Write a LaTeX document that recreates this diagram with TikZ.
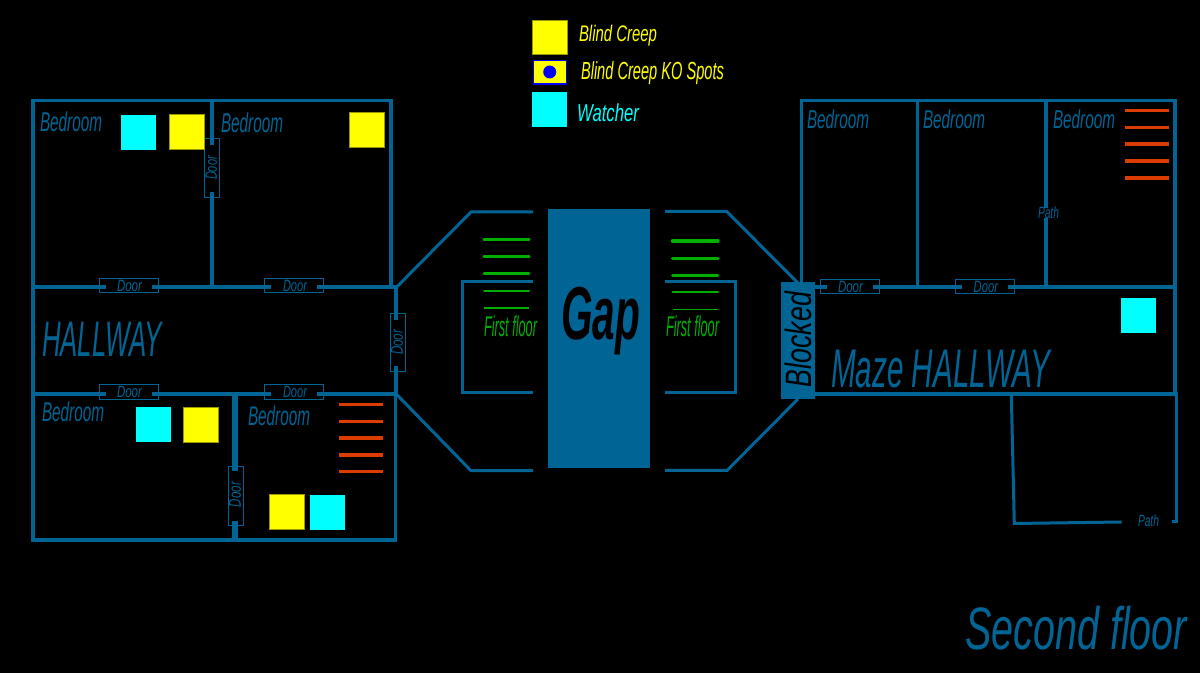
\documentclass[tikz,border=0pt]{standalone}
\usepackage{fontspec}
\setmainfont{Liberation Sans}
\definecolor{wall}{HTML}{006494}
\definecolor{stair}{HTML}{DC3C00}
\definecolor{upstair}{HTML}{00B000}
\definecolor{creepedge}{HTML}{9A9A00}
\definecolor{creepfill}{HTML}{FFFF00}
\definecolor{watchfill}{HTML}{00FFFF}
\definecolor{kodot}{HTML}{0000FF}
\newcommand{\lbl}[7][wall]{% colour, name, x1,y1,x2,y2, text
  \pgfmathsetmacro{\lw}{(#5-#3)*0.75}\pgfmathsetmacro{\lh}{(#6-#4)*0.75}%
  \node[anchor=north west,inner sep=0pt,outer sep=0pt,text=#1] (#2) at (#3,#4)
    {\resizebox*{\lw pt}{\lh pt}{\itshape #7}};}
\newcommand{\rlbl}[7][wall]{% rotated label: box given as on the page
  \pgfmathsetmacro{\lw}{(#6-#4)*0.75}\pgfmathsetmacro{\lh}{(#5-#3)*0.75}%
  \node[rotate=90,inner sep=0pt,outer sep=0pt,text=#1] (#2) at ({(#3+#5)/2},{(#4+#6)/2})
    {\resizebox*{\lw pt}{\lh pt}{\itshape #7}};}
\tikzset{
  wallline/.style={draw=wall,line width=2.5pt,line cap=rect,line join=miter},
  thinwall/.style={draw=wall,line width=2.25pt,line join=miter},
  doorbox/.style={draw=wall,line width=0.75pt},
  creep/.style={fill=creepfill,draw=creepedge,line width=0.5pt},
  watcher/.style={fill=watchfill},
  stairline/.style={draw=stair,line width=2.5pt},
  upline/.style={draw=upstair,line cap=round},
}
\begin{document}
\begin{tikzpicture}[x=0.75pt,y=-0.75pt]
\useasboundingbox (0,0) rectangle (1200,673);
\fill[black] (0,0) rectangle (1200,673);

% --- left wing: walls
\draw[wallline] (212,143) -- (212,100.5) (33,287) -- (33,100.5) -- (391,100.5) -- (391,287);
\draw[wallline] (212,194) -- (212,287);
\draw[wallline] (33,287) -- (104,287) (154,287) -- (269,287) (319,287) -- (396,287);
\draw[wallline] (33,287) -- (33,540) -- (395.5,540) -- (395.5,394);
\draw[wallline] (33,394) -- (104,394) (154,394) -- (269,394) (319,394) -- (396,394);
\draw[wallline] (396,287) -- (396,318) (396,368) -- (396,394);
\draw[draw=wall,line width=4.5pt] (234.7,394) -- (234.7,471) (234.7,521) -- (234.7,541);
% doors
\draw[doorbox] (99.5,278.5) rectangle (158,293);
\draw[doorbox] (264.5,278.5) rectangle (323.5,293);
\draw[doorbox] (99.5,384.5) rectangle (158,399.5);
\draw[doorbox] (264.5,384.5) rectangle (323.5,399.5);
\draw[doorbox] (204.5,139) rectangle (219.5,198);
\draw[doorbox] (390.5,313.5) rectangle (405.5,372);
\draw[doorbox] (228,466.5) rectangle (243,525.5);
% squares
\fill[watcher] (121,115) rectangle (156,150);
\filldraw[creep] (169,114.5) rectangle (204,149.5);
\filldraw[creep] (349.5,112) rectangle (384.5,147);
\fill[watcher] (136,407) rectangle (171,442);
\filldraw[creep] (183,407) rectangle (218,442);
\filldraw[creep] (269,494.5) rectangle (304,529.5);
\fill[watcher] (310,495) rectangle (345,530);
% stairs
\foreach \yy in {404.3,421.3,438,455,471.7} \draw[stairline] (339,\yy) -- (383,\yy);

% --- centre
\draw[thinwall] (396.7,287) -- (471,212) -- (533,212);
\draw[thinwall] (396.7,394.5) -- (471,470.7) -- (533,470.7);
\draw[thinwall] (533,281.7) -- (462,281.7) -- (462,392.7) -- (533,392.7);
\draw[thinwall] (665,211.5) -- (726.7,211.5) -- (798,283);
\draw[thinwall] (665,470.5) -- (727,470.5) -- (798,399);
\draw[thinwall] (665,281.3) -- (735.5,281.3) -- (735.5,392.5) -- (665,392.5);
\fill[wall] (548,209) rectangle (650,468);
% first floor stairs
\draw[upline,line width=2.6pt] (484,239.3) -- (529,239.3);
\draw[upline,line width=2.3pt] (484,256.7) -- (529,256.7);
\draw[upline,line width=1.9pt] (484,273.7) -- (529,273.7);
\draw[upline,line width=1.5pt] (484,290.7) -- (529,290.7);
\draw[upstair,line width=1.1pt] (484,308) -- (529,308);
\draw[upline,line width=2.6pt] (672.5,241) -- (718,241);
\draw[upline,line width=2.3pt] (672.5,258.3) -- (718,258.3);
\draw[upline,line width=1.9pt] (672.5,275.7) -- (718,275.7);
\draw[upline,line width=1.5pt] (672.5,292.5) -- (718,292.5);
\draw[upstair,line width=1.1pt] (672.5,309.7) -- (718,309.7);

% --- right wing
\draw[wallline] (815,287) -- (825,287) (875,287) -- (960,287) (1010,287) -- (1175,287);
\draw[wallline] (801.7,287) -- (801.7,100.7) -- (1175,100.7) -- (1175,394);
\draw[wallline] (917.3,100.7) -- (917.3,287);
\draw[wallline] (1046,100.7) -- (1046,206) (1046,220) -- (1046,287);
\draw[wallline] (815,394) -- (1176,394);
\draw[doorbox] (820.5,279.5) rectangle (879.5,294);
\draw[doorbox] (955.5,279.5) rectangle (1014.5,294);
\draw[thinwall] (1011.3,394) -- (1014.3,523.5) -- (1121.7,522);
\draw[thinwall] (1176,394) -- (1176,521.7) -- (1172,521.7);
\fill[watcher] (1121,298) rectangle (1156,333);
\foreach \yy in {110.7,127.5,144,161,178} \draw[stairline] (1125,\yy) -- (1169,\yy);
\fill[wall] (781,282) rectangle (815,399);

% --- legend
\filldraw[creep] (532.5,20) rectangle (567.5,54.5);
\filldraw[fill=creepfill,draw=kodot,line width=1pt] (533.3,60.5) rectangle (566.7,84);
\fill[kodot] (549.7,72) circle[radius=6.5];
\fill[watcher] (532,92) rectangle (567,127);
\lbl[creepfill]{lgA}{579}{25}{657}{46}{Blind Creep}
\lbl[creepfill]{lgB}{581}{62}{724}{85}{Blind Creep KO Spots}
\lbl[watchfill]{lgC}{577}{104}{639}{122}{Watcher}

% --- labels
\lbl{bedA}{40}{111.5}{102}{131.5}{Bedroom}
\lbl{bedB}{221}{113}{283}{133}{Bedroom}
\lbl{bedC}{42}{401.7}{104}{421.6}{Bedroom}
\lbl{bedD}{248}{405.7}{310}{425.5}{Bedroom}
\lbl{bedE}{807}{110}{869}{129}{Bedroom}
\lbl{bedF}{923}{110}{985}{129}{Bedroom}
\lbl{bedG}{1053}{110}{1115}{129}{Bedroom}
\lbl{doorA}{117}{280}{142}{291.5}{Door}
\lbl{doorB}{283}{280}{307}{291.5}{Door}
\lbl{doorC}{117}{386}{142}{397.5}{Door}
\lbl{doorD}{283}{386}{307}{397.5}{Door}
\lbl{doorE}{838}{281}{863}{292.5}{Door}
\lbl{doorF}{973.7}{281}{998}{292.5}{Door}
\rlbl{doorG}{205.5}{156}{217}{180}{Door}
\rlbl{doorH}{391}{330}{403}{355}{Door}
\rlbl{doorI}{229}{482}{241}{507}{Door}
\lbl{pathA}{1038}{207}{1059}{219}{Path}
\lbl{pathB}{1138}{515}{1159}{527}{Path}
\lbl{hallA}{42}{321.7}{162}{356}{HALLWAY}
\lbl{hallB}{831}{350}{1050}{388}{Maze HALLWAY}
\lbl{floorB}{965}{606}{1187}{650}{Second floor}
\lbl[upstair]{floorA}{484}{316}{537}{337}{First floor}
\lbl[upstair]{floorC}{666}{316}{719}{337}{First floor}
\lbl[black]{gap}{561}{287}{640}{355}{\bfseries Gap}
\rlbl[black]{blocked}{785}{292}{812}{387}{Blocked}
\end{tikzpicture}
\end{document}
